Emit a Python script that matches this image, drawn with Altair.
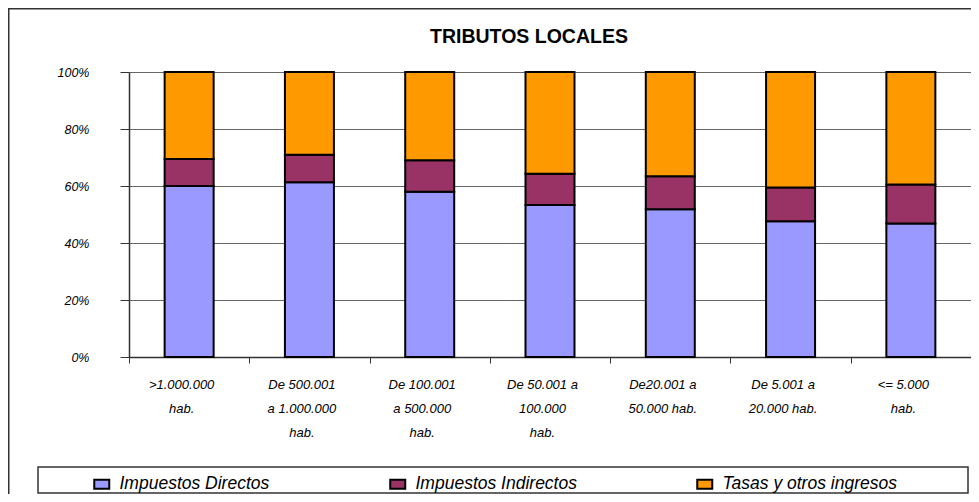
import altair as alt
import pandas as pd

TITLE = "TRIBUTOS LOCALES"
CATEGORIES = [
    ">1.000.000|hab.",
    "De 500.001|a 1.000.000|hab.",
    "De 100.001|a 500.000|hab.",
    "De 50.001 a|100.000|hab.",
    "De20.001 a|50.000 hab.",
    "De 5.001 a|20.000 hab.",
    "<= 5.000|hab.",
]
SERIES = ["Impuestos Directos", "Impuestos Indirectos", "Tasas y otros ingresos"]
DIRECTOS = [60.0, 61.3, 58.0, 53.3, 51.8, 47.6, 46.8]
INDIRECTOS = [9.5, 9.7, 11.0, 11.0, 11.6, 11.9, 13.7]
TASAS = [30.5, 29.0, 31.0, 35.7, 36.6, 40.5, 39.5]
COLORS = ["#9999FF", "#993366", "#FF9900"]
Y_TICKS = [0, 0.2, 0.4, 0.6, 0.8, 1.0]

FONT = "Liberation Sans, Arial, sans-serif"

rows = []
for s_i, (name, vals) in enumerate(zip(SERIES, [DIRECTOS, INDIRECTOS, TASAS])):
    for c, v in zip(CATEGORIES, vals):
        rows.append({"cat": c, "serie": name, "value": v, "idx": s_i})
df = pd.DataFrame(rows)
deco = pd.DataFrame({"t": [TITLE]})

bars = alt.Chart(df).mark_bar(size=49, stroke="black", strokeWidth=2).encode(
    x=alt.X(
        "cat:N",
        sort=CATEGORIES,
        scale=alt.Scale(paddingInner=0, paddingOuter=0),
        axis=alt.Axis(
            title=None,
            labelExpr="split(datum.label, '|')",
            labelAngle=0,
            tickBand="extent",
            tickSize=6,
            tickColor="#333333",
            domainColor="#333333",
            domainWidth=1.5,
            labelFont=FONT,
            labelFontStyle="italic",
            labelFontSize=13,
            labelLineHeight=24,
            labelPadding=15,
            labelOffset=-8,
            labelColor="black",
            labelLimit=0,
        ),
    ),
    y=alt.Y(
        "value:Q",
        stack="normalize",
        scale=alt.Scale(domain=[0, 1], nice=False),
        axis=alt.Axis(
            title=None,
            format=".0%",
            values=Y_TICKS,
            tickSize=9,
            tickColor="#333333",
            domainColor="#333333",
            domainWidth=1.5,
            grid=True,
            gridColor="#666666",
            gridWidth=1,
            labelFont=FONT,
            labelFontStyle="italic",
            labelFontSize=12.5,
            labelPadding=31,
            labelColor="black",
        ),
    ),
    color=alt.Color(
        "serie:N",
        scale=alt.Scale(domain=SERIES, range=COLORS),
        legend=alt.Legend(
            title=None,
            orient="none",
            legendX=-36,
            legendY=403,
            direction="horizontal",
            columns=3,
            columnPadding=116,
            padding=0,
            symbolType="M-1,-0.6L1,-0.6L1,0.6L-1,0.6Z",
            symbolSize=225,
            symbolStrokeColor="black",
            symbolStrokeWidth=2,
            labelFont=FONT,
            labelFontStyle="italic",
            labelFontSize=17.5,
            labelOffset=9,
            labelColor="black",
            labelLimit=0,
        ),
    ),
    order=alt.Order("idx:Q"),
)

frame_left = alt.Chart(deco).mark_rule(color="#333333", strokeWidth=1.5).encode(
    x=alt.value(-120.25), y=alt.value(-64), y2=alt.value(422)
)
frame_top = alt.Chart(deco).mark_rule(color="#333333", strokeWidth=1.5).encode(
    x=alt.value(-121), x2=alt.value(842), y=alt.value(-63.25)
)
legend_box = alt.Chart(deco).mark_rect(fill="white", stroke="#333333", strokeWidth=1.5).encode(
    x=alt.value(-91), x2=alt.value(839), y=alt.value(395), y2=alt.value(421)
)
title = alt.Chart(deco).mark_text(
    font=FONT, fontSize=19.5, fontWeight="bold", baseline="alphabetic", align="center", color="black"
).encode(text="t:N", x=alt.value(400), y=alt.value(-29.5))

chart = alt.layer(frame_left, frame_top, legend_box, title, bars).properties(
    width=842,
    height=285,
    autosize=alt.AutoSizeParams(type="none"),
    padding={"left": 121, "top": 64, "right": 0, "bottom": 137},
).configure_view(stroke="#808080", fill="#FFFFCC").configure(background="white")

chart.save("out.html", embed_options={"renderer": "svg", "actions": False})
